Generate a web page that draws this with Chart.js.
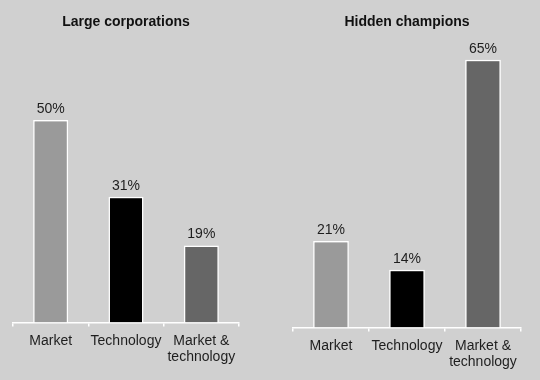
<!DOCTYPE html>
<html>
<head>
<meta charset="utf-8">
<script src="https://cdn.jsdelivr.net/npm/chart.js@4"></script>
<style>
  html, body { margin: 0; padding: 0; background: #d0d0d0; }
  .wrap { position: relative; width: 540px; height: 380px; }
  .panel { position: absolute; top: 0; width: 270px; height: 380px; }
</style>
</head>
<body>
<div class="wrap">
  <div class="panel" style="left:0"><canvas id="left" width="270" height="380"></canvas></div>
  <div class="panel" style="left:270px"><canvas id="right" width="270" height="380"></canvas></div>
</div>
<script>
const categories = ['Market', 'Technology', ['Market &', 'technology']];
const largeCorpValues = [50, 31, 19];
const hiddenChampValues = [21, 14, 65];
const barColors = ['#9a9a9a', '#000000', '#666666'];

const FONT = '"Liberation Sans", Arial, Helvetica, sans-serif';
Chart.defaults.font.family = FONT;
Chart.defaults.color = '#1e1e1e';

// percent labels above the bars
const valueLabels = {
    id: 'valueLabels',
    afterDatasetsDraw(chart) {
        const ctx = chart.ctx;
        const meta = chart.getDatasetMeta(0);
        const data = chart.data.datasets[0].data;
        ctx.save();
        ctx.font = '14px ' + FONT;
        ctx.fillStyle = '#1e1e1e';
        ctx.textAlign = 'center';
        ctx.textBaseline = 'alphabetic';
        meta.data.forEach((bar, i) => {
            ctx.fillText(data[i] + '%', bar.x, bar.y - 7);
        });
        ctx.restore();
    }
};

function makeChart(id, title, values, pad){
    const ctx = document.getElementById(id).getContext('2d');
    return new Chart(ctx, {
        type: 'bar',
        data: {
            labels: categories,
            datasets: [{
                data: values,
                backgroundColor: barColors,
                borderColor: '#ffffff',
                borderWidth: 1.5,
                barPercentage: pad.bar,
                categoryPercentage: 1
            }]
        },
        options: {
            responsive: false,
            animation: false,
            layout: {
                padding: { left: pad.left, right: pad.right, top: 0, bottom: pad.bottom }
            },
            plugins: {
                legend: { display: false },
                tooltip: { enabled: false },
                title: {
                    display: true,
                    text: title,
                    color: '#111',
                    font: { size: 14, weight: 'bold' },
                    padding: { top: 14, bottom: 0 }
                }
            },
            scales: {
                y: {
                    display: false,
                    min: 0,
                    max: 72
                },
                x: {
                    border: { color: '#ffffff', width: 1.5 },
                    grid: {
                        offset: true,
                        drawOnChartArea: false,
                        color: '#ffffff',
                        lineWidth: 1.5,
                        tickLength: 4
                    },
                    ticks: {
                        padding: 6,
                        color: '#1e1e1e',
                        font: { size: 14, lineHeight: 1.2 },
                        maxRotation: 0,
                        autoSkip: false
                    }
                }
            }
        },
        plugins: [valueLabels]
    });
}

makeChart('left', 'Large corporations', largeCorpValues, { left: 13, right: 31, bottom: 8, bar: 0.465 });
makeChart('right', 'Hidden champions', hiddenChampValues, { left: 23, right: 19, bottom: 3, bar: 0.47 });
</script>
</body>
</html>
